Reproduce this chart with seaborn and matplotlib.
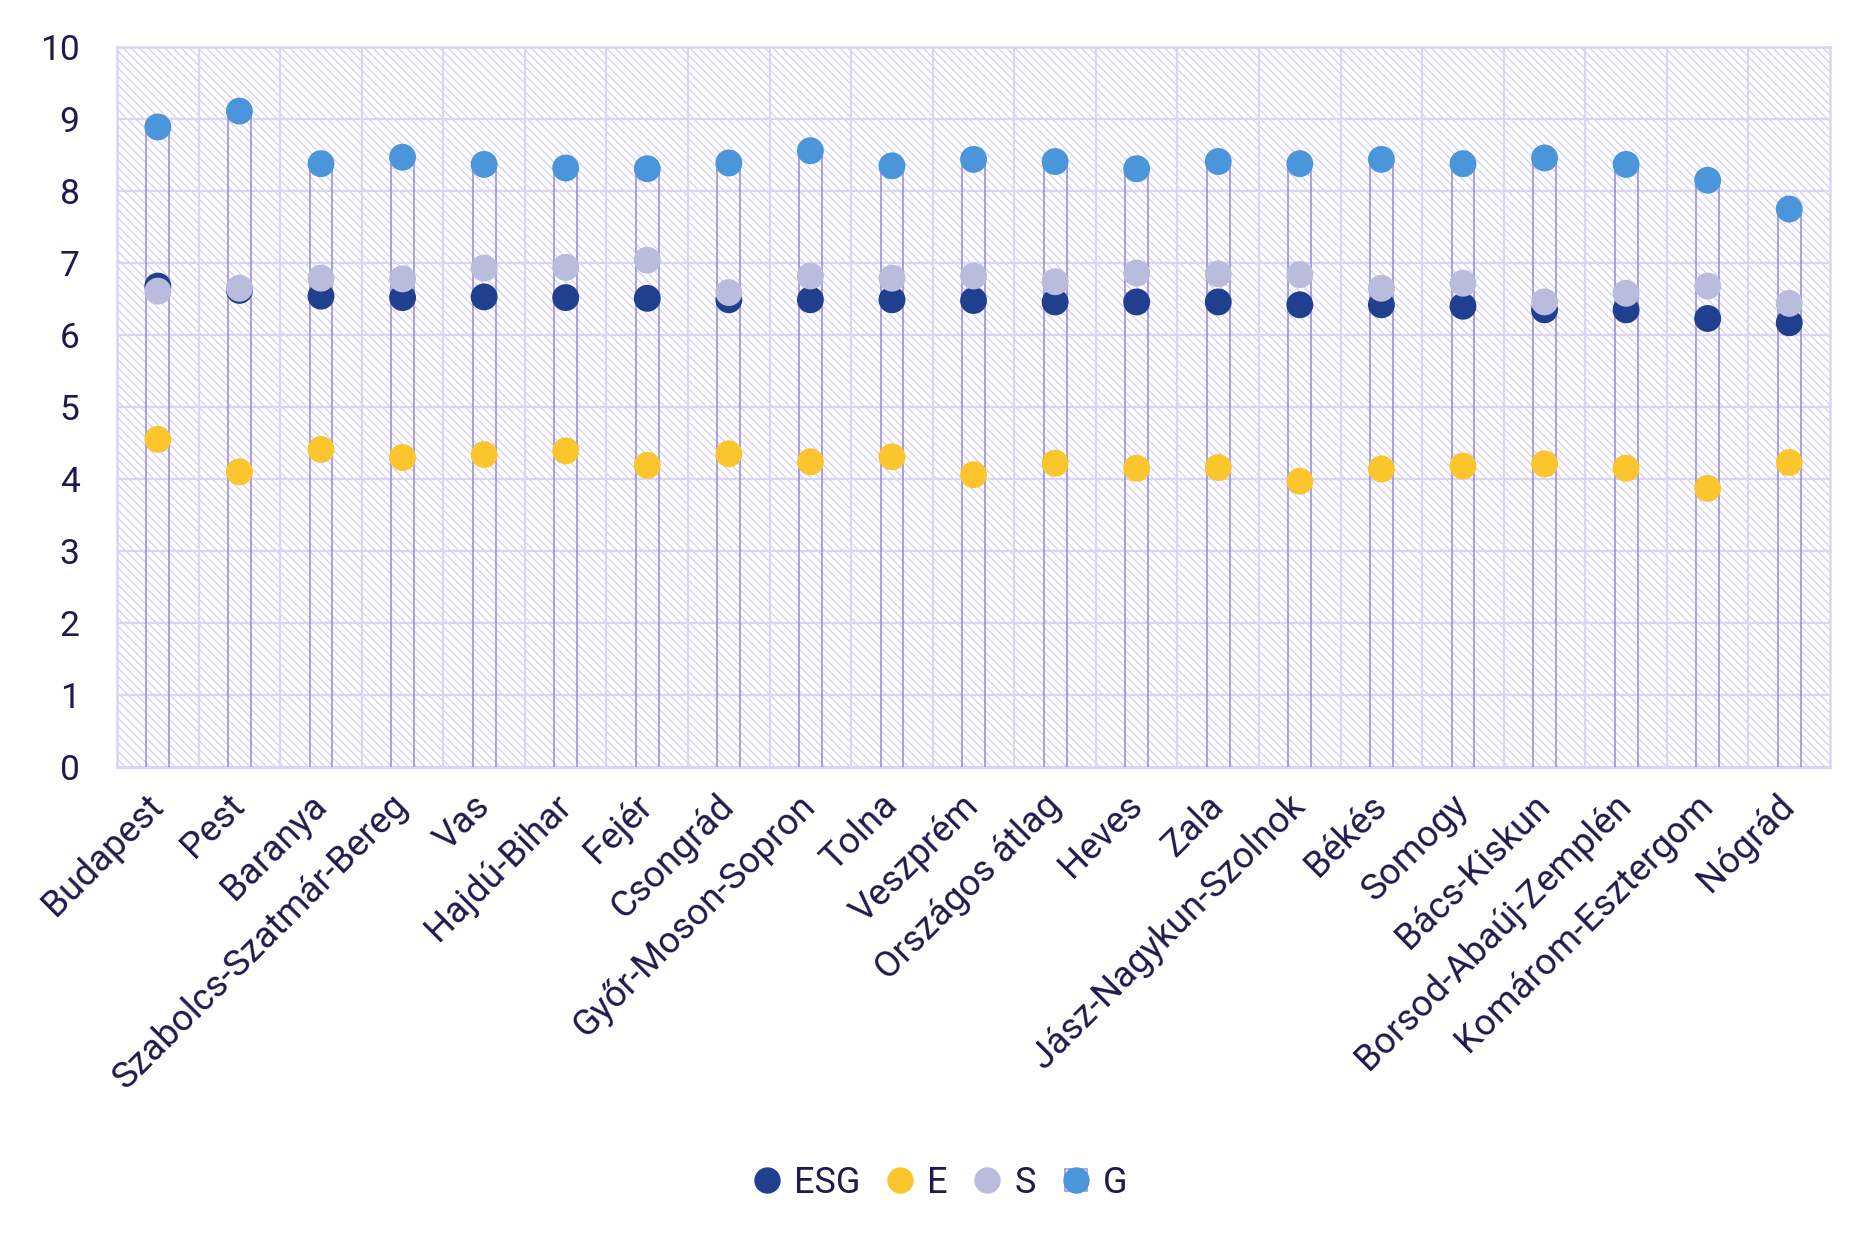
import numpy as np
import pandas as pd
import matplotlib
matplotlib.use("Agg")
import matplotlib.pyplot as plt
from matplotlib.patches import Rectangle
from matplotlib.lines import Line2D
from matplotlib.legend_handler import HandlerTuple
import seaborn as sns

regions = ["Budapest", "Pest", "Baranya", "Szabolcs-Szatmár-Bereg", "Vas", "Hajdú-Bihar",
           "Fejér", "Csongrád", "Győr-Moson-Sopron", "Tolna", "Veszprém", "Országos átlag",
           "Heves", "Zala", "Jász-Nagykun-Szolnok", "Békés", "Somogy", "Bács-Kiskun",
           "Borsod-Abaúj-Zemplén", "Komárom-Esztergom", "Nógrád"]
esg = [6.68, 6.62, 6.54, 6.52, 6.53, 6.52, 6.51, 6.49, 6.49, 6.49, 6.48, 6.46,
       6.46, 6.46, 6.42, 6.42, 6.40, 6.35, 6.35, 6.23, 6.17]
e_vals = [4.55, 4.10, 4.41, 4.30, 4.34, 4.39, 4.19, 4.35, 4.24, 4.31, 4.06, 4.22,
          4.15, 4.16, 3.97, 4.14, 4.18, 4.21, 4.15, 3.87, 4.23]
s_vals = [6.61, 6.65, 6.79, 6.78, 6.93, 6.94, 7.04, 6.59, 6.82, 6.79, 6.82, 6.74,
          6.86, 6.85, 6.84, 6.65, 6.72, 6.46, 6.58, 6.68, 6.44]
g_vals = [8.89, 9.11, 8.38, 8.47, 8.37, 8.32, 8.31, 8.39, 8.56, 8.35, 8.44, 8.41,
          8.31, 8.41, 8.38, 8.44, 8.38, 8.46, 8.37, 8.15, 7.75]
series = ["ESG", "E", "S", "G"]
y_ticks = list(range(0, 11))

colors = {"ESG": "#213f8f", "E": "#fbc52e", "S": "#b9bcdc", "G": "#4b95da"}
text_c = "#1f1a4b"
grid_c = "#dad5f2"
drop_c = "#9d90dc"
hatch_c = "#d8d2f3"

wide = pd.DataFrame({"region": regions, "ESG": esg, "E": e_vals, "S": s_vals, "G": g_vals})
long = wide.melt(id_vars="region", value_vars=series, var_name="series", value_name="value")

sns.set_theme(style="white")
plt.rcParams["font.family"] = ["Roboto", "DejaVu Sans"]
plt.rcParams["hatch.linewidth"] = 1.0

fig = plt.figure(figsize=(18.76, 12.48), dpi=100)
ax = fig.add_axes([0.0624, 0.3854, 0.9131, 0.5769])

# hatched background
ax.add_patch(Rectangle((0, 0), 1, 1, transform=ax.transAxes, facecolor="white",
                       edgecolor=hatch_c, linewidth=0, hatch="\\\\\\\\", zorder=0))

sns.scatterplot(data=long, x="region", y="value", hue="series", hue_order=series,
                palette=colors, s=375, linewidth=0, legend=False, ax=ax, zorder=4)

pos = np.arange(len(regions))
off = 0.14
ax.vlines(pos - off, 0, g_vals, color=drop_c, linewidth=1.2, zorder=3)
ax.vlines(pos + off, 0, g_vals, color=drop_c, linewidth=1.2, zorder=3)

ax.set_xlim(-0.5, len(regions) - 0.5)
ax.set_ylim(0, 10)
ax.set_yticks(y_ticks)
ax.set_xticks(pos, regions)
ax.grid(False)
for v in y_ticks[1:]:
    ax.axhline(v, color=grid_c, linewidth=1.6, zorder=1)
for b in pos[:-1] + 0.5:
    ax.axvline(b, color=grid_c, linewidth=1.6, zorder=1)
for sp in ax.spines.values():
    sp.set_color(grid_c)
    sp.set_linewidth(1.8)
ax.spines["bottom"].set_linewidth(2.2)

ax.set_xlabel("")
ax.set_ylabel("")
ax.tick_params(axis="y", length=0, pad=27, labelsize=25.5, labelcolor=text_c)
ax.tick_params(axis="x", which="both", length=0, pad=24, labelsize=26.5, labelcolor=text_c)
for lab in ax.get_xticklabels():
    lab.set_rotation(45)
    lab.set_ha("right")
    lab.set_va("center")
    lab.set_rotation_mode("anchor")

# legend
handles = []
for k in series:
    mk = Line2D([], [], marker="o", linestyle="none", markersize=19,
                markerfacecolor=colors[k], markeredgewidth=0)
    if k == "G":
        sq = Line2D([], [], marker="s", linestyle="none", markersize=16,
                    markerfacecolor="none", markeredgecolor=drop_c, markeredgewidth=1.2)
        handles.append((sq, mk))
    else:
        handles.append(mk)
fig.legend(handles, series, loc="center", bbox_to_anchor=(0.5, 0.052), ncol=4,
           frameon=False, fontsize=26, labelcolor=text_c, handletextpad=0.25,
           columnspacing=0.6, handlelength=1.0,
           handler_map={tuple: HandlerTuple(ndivide=1, pad=0)})

fig.savefig("out.png", dpi=100)
